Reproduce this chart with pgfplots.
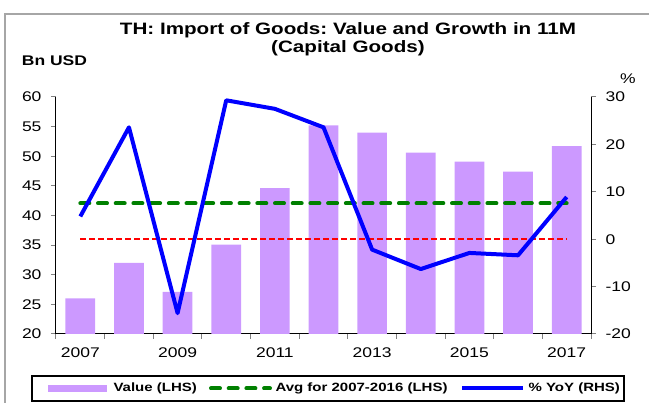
\documentclass[border=0pt]{standalone}
\usepackage{pgfplots}
\pgfplotsset{compat=1.18}
\usepackage{fontspec}
\setmainfont{Liberation Sans}[FakeStretch=1.25]
\frenchspacing
\definecolor{barpurple}{RGB}{204,153,255}
\definecolor{avggreen}{RGB}{0,128,0}
\begin{document}
\begin{tikzpicture}[x=1pt,y=1pt]
\useasboundingbox (0,0) rectangle (649,403);
\draw[gray!70,line width=1.2pt] (5,-5) -- (5,389) -- (660,389);
% title
\node[align=center,font=\fontsize{16.5}{18}\selectfont\bfseries] at (348,364) {TH: Import of Goods: Value and Growth in 11M\\(Capital Goods)};
\node[font=\fontsize{14}{16}\selectfont\bfseries] at (54.5,342) {Bn USD};
\node[font=\fontsize{14}{16}\selectfont] at (628,324) {\%};
\begin{axis}[
  at={(56pt,69pt)}, anchor=south west,
  scale only axis, width=535pt, height=237pt,
  xmin=-0.5, xmax=10.5, ymin=20, ymax=60,
  axis x line*=bottom, axis y line*=left,
  axis line style={line width=1pt},
  ytick={20,25,...,60},
  xtick={0,2,4,6,8,10},
  xticklabels={2007,2009,2011,2013,2015,2017},
  major x tick style={draw=none},
  minor xtick={-0.5,0.5,...,10.5},
  minor x tick style={line width=1pt},
  minor tick length=5pt,
  major tick length=5pt,
  tick align=outside,
  ytick style={line width=1pt},
  tick label style={font=\fontsize{14}{16}\selectfont},
  /pgf/number format/assume math mode=true,
  yticklabel style={xshift=-6pt},
  xticklabel style={yshift=-5pt},
  clip=false,
]
\addplot[ybar, bar width=29.7pt, fill=barpurple, draw=none] coordinates {
(0,26.0) (1,32.0) (2,27.1) (3,35.1) (4,44.6) (5,55.2) (6,54.0) (7,50.6) (8,49.1) (9,47.4) (10,51.7)};
\addplot[avggreen, line width=4pt, line cap=round, dash pattern=on 9pt off 8.7pt] coordinates {(0,42.05) (10,42.05)};
\end{axis}
\begin{axis}[
  at={(56pt,69pt)}, anchor=south west,
  scale only axis, width=535pt, height=237pt,
  xmin=-0.5, xmax=10.5, ymin=-20, ymax=30,
  axis x line=none, axis y line*=right,
  axis line style={line width=1pt},
  ytick={-20,-10,...,30},
  tick align=outside, major tick length=5pt,
  ytick style={line width=1pt},
  tick label style={font=\fontsize{14}{16}\selectfont},
  /pgf/number format/assume math mode=true,
  yticklabel style={xshift=6pt},
  clip=false,
]
\addplot[red, line width=2pt, dash pattern=on 6pt off 3pt] coordinates {(0,0) (10,0)};
\addplot[blue, line width=4pt, line join=round, mark=none] coordinates {
(0,4.8) (1,23.6) (2,-15.6) (3,29.3) (4,27.5) (5,23.6) (6,-2.2) (7,-6.3) (8,-2.9) (9,-3.4) (10,8.9)};
\end{axis}
% legend
\draw[line width=1.2pt] (32,2) rectangle (624,27);
\fill[barpurple] (48,11) rectangle (107,18);
\node[anchor=west,font=\fontsize{12}{14}\selectfont\bfseries] at (110,14.5) {Value (LHS)};
\draw[avggreen, line width=4pt, line cap=round, dash pattern=on 9pt off 8.7pt] (211,14.5) -- (270,14.5);
\node[anchor=west,font=\fontsize{12}{14}\selectfont\bfseries] at (272,14.5) {Avg for 2007-2016 (LHS)};
\draw[blue, line width=4pt] (462,14.5) -- (523,14.5);
\node[anchor=west,font=\fontsize{12}{14}\selectfont\bfseries] at (525,14.5) {\% YoY (RHS)};
\end{tikzpicture}
\end{document}
